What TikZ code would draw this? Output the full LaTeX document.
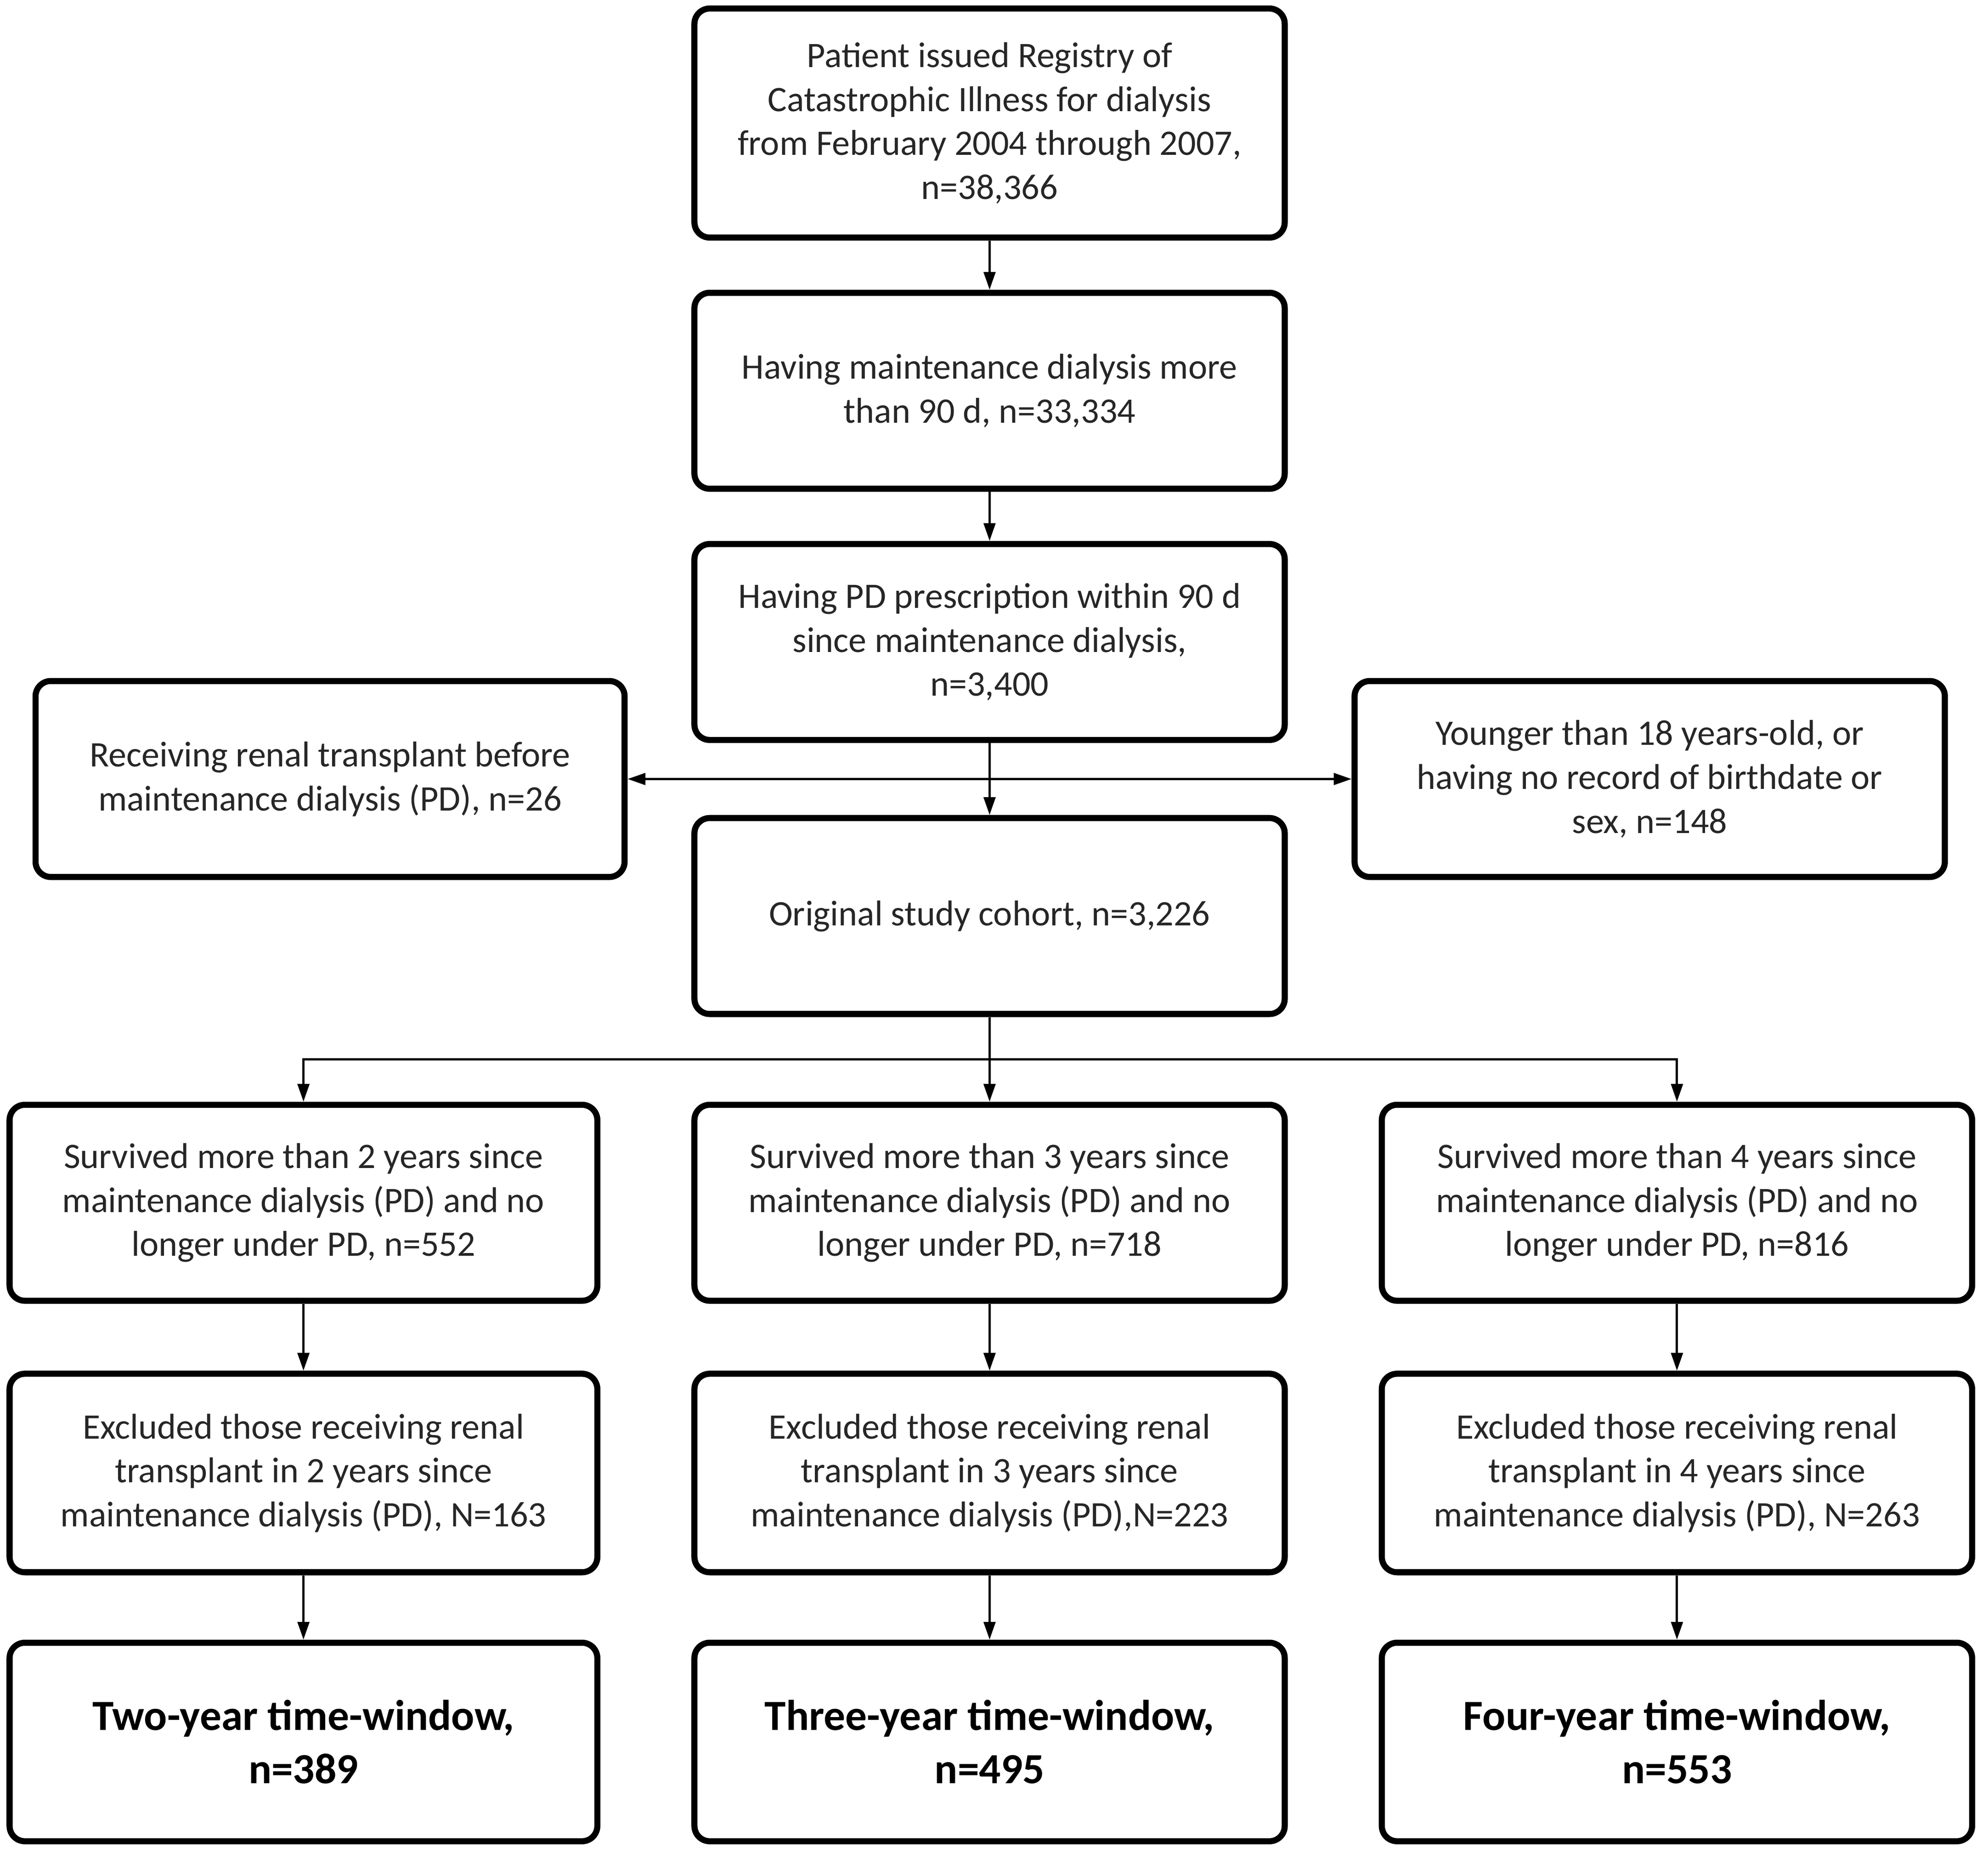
\documentclass[tikz,border=0pt]{standalone}
\usepackage{fontspec}
\setmainfont{Carlito}
\usetikzlibrary{arrows.meta}
\begin{document}
\begin{tikzpicture}[x=0.498pt,y=-0.4985pt,
  box/.style={draw=black, line width=2.4pt, rounded corners=6pt, fill=white,
    align=center, inner sep=0pt, text=black!85,
    font=\fontsize{14.1}{17.25}\selectfont},
  bigbox/.style={box, font=\fontsize{16.9}{21}\selectfont\bfseries, text=black},
  arr/.style={line width=0.9pt, -{Triangle[length=7pt,width=4.6pt]}},
  ln/.style={line width=0.9pt}]
\useasboundingbox (0,0) rectangle (1569,1461);
\node[box, minimum width=232pt, minimum height=90pt] (b1) at (781,97)
  {Patient issued Registry of\\Catastrophic Illness for dialysis\\from February 2004 through 2007,\\n=38,366};
\node[box, minimum width=232pt, minimum height=77pt] (b2) at (781,308)
  {Having maintenance dialysis more\\than 90 d, n=33,334};
\node[box, minimum width=232pt, minimum height=77pt] (b3) at (781,506)
  {Having PD prescription within 90 d\\since maintenance dialysis,\\n=3,400};
\node[box, minimum width=231.5pt, minimum height=77pt] (L) at (260.5,614)
  {Receiving renal transplant before\\maintenance dialysis (PD), n=26};
\node[box, minimum width=232pt, minimum height=77pt] (R) at (1302,614)
  {Younger than 18 years-old, or\\having no record of birthdate or\\sex, n=148};
\node[box, minimum width=232pt, minimum height=77pt] (b4) at (781,722)
  {Original study cohort, n=3,226};
\node[box, minimum width=231pt, minimum height=77pt] (s2) at (239.5,948)
  {Survived more than 2 years since\\maintenance dialysis (PD) and no\\longer under PD, n=552};
\node[box, minimum width=232pt, minimum height=77pt] (s3) at (781,948)
  {Survived more than 3 years since\\maintenance dialysis (PD) and no\\longer under PD, n=718};
\node[box, minimum width=232pt, minimum height=77pt] (s4) at (1323.5,948)
  {Survived more than 4 years since\\maintenance dialysis (PD) and no\\longer under PD, n=816};
\node[box, minimum width=231pt, minimum height=78pt] (e2) at (239.5,1161)
  {Excluded those receiving renal\\transplant in 2 years since\\maintenance dialysis (PD), N=163};
\node[box, minimum width=232pt, minimum height=78pt] (e3) at (781,1161)
  {Excluded those receiving renal\\transplant in 3 years since\\maintenance dialysis (PD),N=223};
\node[box, minimum width=232pt, minimum height=78pt] (e4) at (1323.5,1161)
  {Excluded those receiving renal\\transplant in 4 years since\\maintenance dialysis (PD), N=263};
\node[bigbox, minimum width=231pt, minimum height=78pt] (t2) at (239.5,1373)
  {Two-year time-window,\\n=389};
\node[bigbox, minimum width=232pt, minimum height=78pt] (t3) at (781,1373)
  {Three-year time-window,\\n=495};
\node[bigbox, minimum width=232pt, minimum height=78pt] (t4) at (1323.5,1373)
  {Four-year time-window,\\n=553};
\draw[arr] (b1.south) -- (b2.north);
\draw[arr] (b2.south) -- (b3.north);
\draw[arr] (b3.south) -- (b4.north);
\draw[arr] (b3.south |- L.east) -- (L.east);
\draw[arr] (b3.south |- R.west) -- (R.west);
\coordinate (j) at (781,835);
\draw[ln] (b4.south) -- (j);
\draw[arr] (j) -| (s2.north);
\draw[arr] (j) -- (s3.north);
\draw[arr] (j) -| (s4.north);
\draw[arr] (s2.south) -- (e2.north);
\draw[arr] (s3.south) -- (e3.north);
\draw[arr] (s4.south) -- (e4.north);
\draw[arr] (e2.south) -- (t2.north);
\draw[arr] (e3.south) -- (t3.north);
\draw[arr] (e4.south) -- (t4.north);
\end{tikzpicture}
\end{document}
